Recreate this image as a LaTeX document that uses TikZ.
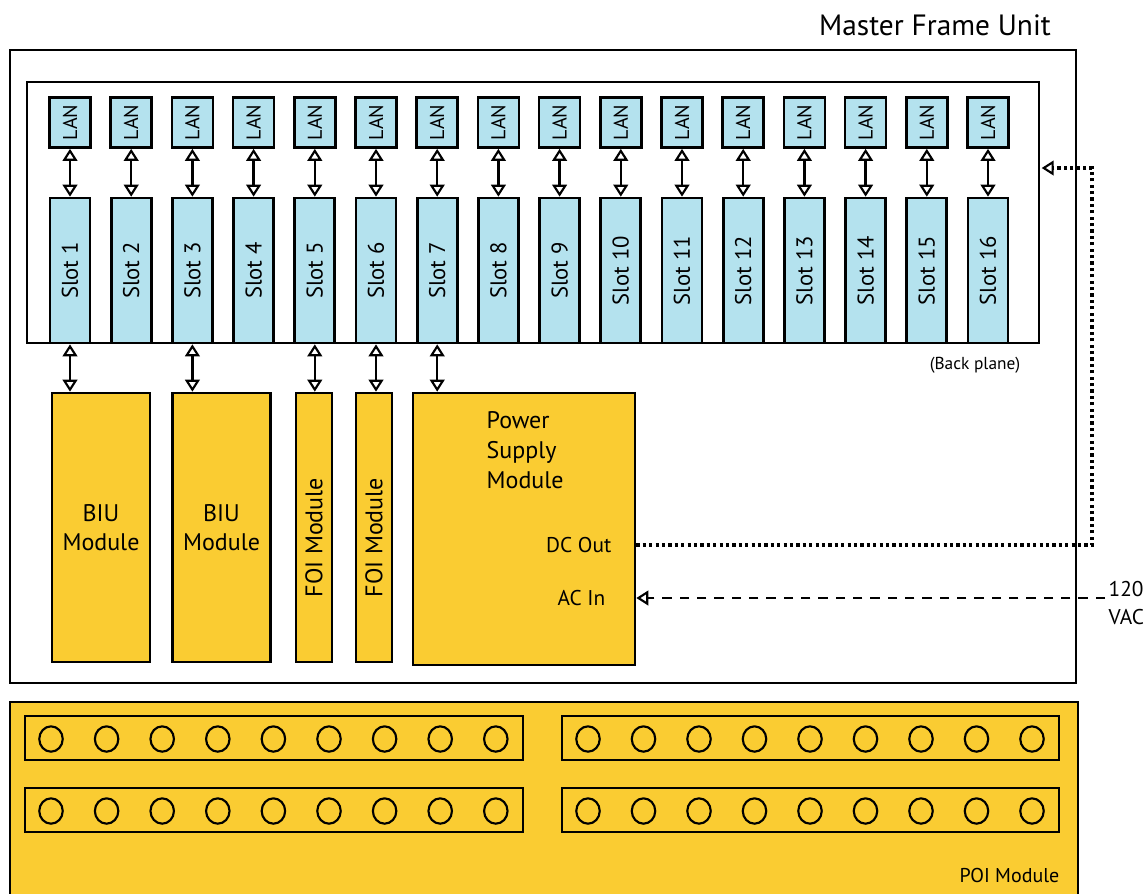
\documentclass[tikz,border=0pt]{standalone}
\usepackage{fontspec}
\setmainfont{PT Sans}
\usepackage{tikz}
\usetikzlibrary{positioning}
\usetikzlibrary{arrows.meta}
\definecolor{slotblue}{RGB}{180,226,238}
\definecolor{modyellow}{RGB}{250,204,50}
\tikzstyle{slotbox} = [rectangle, minimum width=30pt, minimum height=108.75pt, inner sep=0pt, draw=black, line width=2pt, fill=slotblue, font=\fontsize{17}{20}\selectfont, node distance=45.9pt]
\tikzstyle{lanbox} = [rectangle, minimum width=30.75pt, minimum height=37.5pt, inner sep=0pt, draw=black, line width=2pt, fill=slotblue, font=\fontsize{15}{18}\selectfont, node distance=111pt]
\tikzstyle{module} = [rectangle, inner sep=0pt, draw=black, line width=2pt, fill=modyellow]
\tikzstyle{strip} = [rectangle, minimum height=33pt, inner sep=0pt, draw=black, line width=2pt]
\tikzstyle{jack} = [draw=black, line width=1.6pt]
\tikzstyle{link} = [line width=1.8pt, {Triangle[fill=white, length=9pt, width=11pt, line width=1.6pt]}-{Triangle[fill=white, length=9pt, width=11pt, line width=1.6pt]}]
\tikzstyle{dotarrow} = [line width=2.4pt, dash pattern=on 2.4pt off 2.4pt, -{Triangle[fill=white, length=9pt, width=11pt, line width=1.6pt, sep=1pt]}]
\tikzstyle{dasharrow} = [line width=2.2pt, dash pattern=on 7pt off 6pt, -{Triangle[fill=white, length=9pt, width=11pt, line width=1.6pt]}]

\begin{document}
\begin{tikzpicture}[x=0.75pt, y=-0.75pt]
\useasboundingbox (0,0) rectangle (1148,893);
\node (mfu) [font=\fontsize{22}{26}\selectfont] at (935,25) {Master Frame Unit};
\node (frame) [rectangle, draw=black, line width=2pt, minimum width=799.5pt, minimum height=474.75pt] at (543,366.5) {};
\node (backplane) [rectangle, draw=black, line width=2pt, minimum width=759pt, minimum height=195.75pt] at (533,212.5) {};
\node (bplabel) [font=\fontsize{13}{15}\selectfont] at (975,365) {(Back plane)};

% slots
\node (slot1) [slotbox] at (70,270.5) {\rotatebox{90}{Slot 1}};
\node (slot2) [slotbox, right of=slot1] {\rotatebox{90}{Slot 2}};
\node (slot3) [slotbox, right of=slot2] {\rotatebox{90}{Slot 3}};
\node (slot4) [slotbox, right of=slot3] {\rotatebox{90}{Slot 4}};
\node (slot5) [slotbox, right of=slot4] {\rotatebox{90}{Slot 5}};
\node (slot6) [slotbox, right of=slot5] {\rotatebox{90}{Slot 6}};
\node (slot7) [slotbox, right of=slot6] {\rotatebox{90}{Slot 7}};
\node (slot8) [slotbox, right of=slot7] {\rotatebox{90}{Slot 8}};
\node (slot9) [slotbox, right of=slot8] {\rotatebox{90}{Slot 9}};
\node (slot10) [slotbox, right of=slot9] {\rotatebox{90}{Slot 10}};
\node (slot11) [slotbox, right of=slot10] {\rotatebox{90}{Slot 11}};
\node (slot12) [slotbox, right of=slot11] {\rotatebox{90}{Slot 12}};
\node (slot13) [slotbox, right of=slot12] {\rotatebox{90}{Slot 13}};
\node (slot14) [slotbox, right of=slot13] {\rotatebox{90}{Slot 14}};
\node (slot15) [slotbox, right of=slot14] {\rotatebox{90}{Slot 15}};
\node (slot16) [slotbox, right of=slot15] {\rotatebox{90}{Slot 16}};

% LAN cards
\node (lan1) [lanbox, above of=slot1] {\rotatebox{90}{LAN}};
\node (lan2) [lanbox, above of=slot2] {\rotatebox{90}{LAN}};
\node (lan3) [lanbox, above of=slot3] {\rotatebox{90}{LAN}};
\node (lan4) [lanbox, above of=slot4] {\rotatebox{90}{LAN}};
\node (lan5) [lanbox, above of=slot5] {\rotatebox{90}{LAN}};
\node (lan6) [lanbox, above of=slot6] {\rotatebox{90}{LAN}};
\node (lan7) [lanbox, above of=slot7] {\rotatebox{90}{LAN}};
\node (lan8) [lanbox, above of=slot8] {\rotatebox{90}{LAN}};
\node (lan9) [lanbox, above of=slot9] {\rotatebox{90}{LAN}};
\node (lan10) [lanbox, above of=slot10] {\rotatebox{90}{LAN}};
\node (lan11) [lanbox, above of=slot11] {\rotatebox{90}{LAN}};
\node (lan12) [lanbox, above of=slot12] {\rotatebox{90}{LAN}};
\node (lan13) [lanbox, above of=slot13] {\rotatebox{90}{LAN}};
\node (lan14) [lanbox, above of=slot14] {\rotatebox{90}{LAN}};
\node (lan15) [lanbox, above of=slot15] {\rotatebox{90}{LAN}};
\node (lan16) [lanbox, above of=slot16] {\rotatebox{90}{LAN}};

\draw [link] (lan1) -- (slot1);
\draw [link] (lan2) -- (slot2);
\draw [link] (lan3) -- (slot3);
\draw [link] (lan4) -- (slot4);
\draw [link] (lan5) -- (slot5);
\draw [link] (lan6) -- (slot6);
\draw [link] (lan7) -- (slot7);
\draw [link] (lan8) -- (slot8);
\draw [link] (lan9) -- (slot9);
\draw [link] (lan10) -- (slot10);
\draw [link] (lan11) -- (slot11);
\draw [link] (lan12) -- (slot12);
\draw [link] (lan13) -- (slot13);
\draw [link] (lan14) -- (slot14);
\draw [link] (lan15) -- (slot15);
\draw [link] (lan16) -- (slot16);

% modules
\node (biuA) [module, minimum width=73.5pt, minimum height=201.75pt, align=center, font=\fontsize{18}{21.75}\selectfont] at (101,527.5) {BIU\\Module};
\node (biuB) [module, minimum width=73.5pt, minimum height=201.75pt, align=center, font=\fontsize{18}{21.75}\selectfont] at (221.5,527.5) {BIU\\Module};
\node (foiA) [module, minimum width=27pt, minimum height=201.75pt] at (314,527.5) {};
\node (foiB) [module, minimum width=27pt, minimum height=201.75pt] at (374,527.5) {};
\node (foiAtext) [rotate=90, font=\fontsize{18}{21}\selectfont] at (314,537.5) {FOI Module};
\node (foiBtext) [rotate=90, font=\fontsize{18}{21}\selectfont] at (374,537.5) {FOI Module};
\node (psu) [module, minimum width=166.5pt, minimum height=204pt] at (524,529) {};
\node (psutext) [anchor=north west, align=left, font=\fontsize{18}{22.5}\selectfont] at (482,407) {Power\\Supply\\Module};
\node (dcout) [anchor=east, font=\fontsize{16}{19}\selectfont] at (616,545) {DC Out};
\node (acin) [anchor=east, font=\fontsize{16}{19}\selectfont] at (610,598) {AC In};

\draw [link] (slot1.south) -- (slot1.south |- biuA.north);
\draw [link] (slot3.south) -- (slot3.south |- biuB.north);
\draw [link] (slot5.south) -- (slot5.south |- foiA.north);
\draw [link] (slot6.south) -- (slot6.south |- foiB.north);
\draw [link] (slot7.south) -- (slot7.south |- psu.north);

% power feeds
\coordinate (feed) at (1092,168);
\coordinate (mains) at (1105,598);
\draw [dotarrow] (dcout.east -| psu.east) -| (feed) -- (feed -| backplane.east);
\draw [dasharrow] (mains) -- (mains -| psu.east);
\node (vac) [anchor=west, align=left, font=\fontsize{16}{21}\selectfont] at (1104,603) {120\\VAC};

% POI module
\node (poi) [module, minimum width=801pt, minimum height=150pt] at (544,802) {};
\node (poitext) [anchor=east, font=\fontsize{15}{18}\selectfont] at (1064,875) {POI Module};
\node (stripA) [strip, minimum width=373.5pt] at (274,738) {};
\node (stripB) [strip, minimum width=372.75pt] at (810.5,738) {};
\node (stripC) [strip, minimum width=373.5pt] at (274,810) {};
\node (stripD) [strip, minimum width=372.75pt] at (810.5,810) {};
\foreach \i in {0,...,8} {
  \draw [jack] (51+55.6*\i,739) ellipse [x radius=8.8pt, y radius=9.5pt];
  \draw [jack] (51+55.6*\i,811) ellipse [x radius=8.8pt, y radius=9.5pt];
  \draw [jack] (588+55.5*\i,739) ellipse [x radius=8.8pt, y radius=9.5pt];
  \draw [jack] (588+55.5*\i,811) ellipse [x radius=8.8pt, y radius=9.5pt];
}
\end{tikzpicture}
\end{document}
